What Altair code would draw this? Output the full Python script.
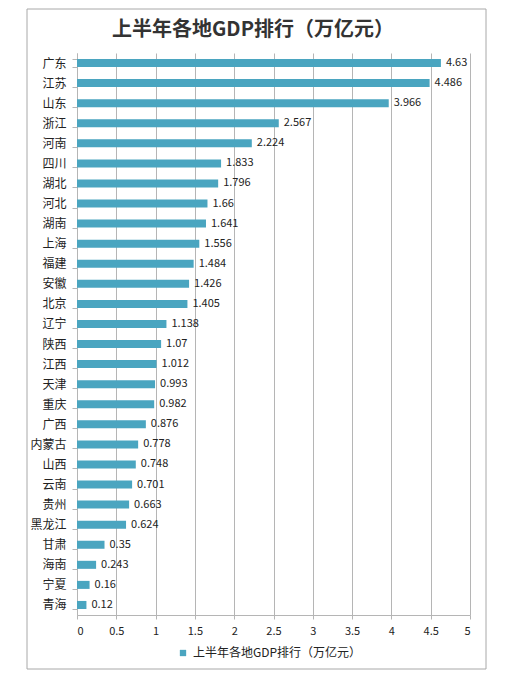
import altair as alt
import pandas as pd

provinces = ["广东", "江苏", "山东", "浙江", "河南", "四川", "湖北", "河北", "湖南", "上海",
             "福建", "安徽", "北京", "辽宁", "陕西", "江西", "天津", "重庆", "广西", "内蒙古",
             "山西", "云南", "贵州", "黑龙江", "甘肃", "海南", "宁夏", "青海"]
gdp = [4.63, 4.486, 3.966, 2.567, 2.224, 1.833, 1.796, 1.66, 1.641, 1.556,
       1.484, 1.426, 1.405, 1.138, 1.07, 1.012, 0.993, 0.982, 0.876, 0.778,
       0.748, 0.701, 0.663, 0.624, 0.35, 0.243, 0.16, 0.12]
x_ticks = [0, 0.5, 1, 1.5, 2, 2.5, 3, 3.5, 4, 4.5, 5]
series_name = "上半年各地GDP排行（万亿元）"

FONT = "Noto Sans CJK SC"
BAR = "#4aa5c0"
GRID = "#b5b5b5"

df = pd.DataFrame({"province": provinces, "gdp": gdp})

y_enc = alt.Y("province:N", sort=provinces, title=None,
              scale=alt.Scale(paddingInner=0.6, paddingOuter=0.3),
              axis=alt.Axis(tickBand="extent", tickSize=5, tickColor=GRID,
                            domainColor=GRID, labelFontSize=12, labelColor="#222222",
                            labelPadding=6, labelFont=FONT))
x_enc = alt.X("gdp:Q", title=None,
              scale=alt.Scale(domain=[0, 5], nice=False),
              axis=alt.Axis(values=x_ticks, format="~g", grid=True, gridColor=GRID,
                            tickColor=GRID, tickSize=4, domainColor=GRID,
                            labelFontSize=11, labelColor="#222222", labelPadding=6,
                            labelFont=FONT, labelOverlap=False))

base = alt.Chart(df)

bars = base.mark_bar().encode(
    y=y_enc,
    x=x_enc,
    color=alt.Color("series:N", scale=alt.Scale(range=[BAR]),
                    legend=alt.Legend(title=None, orient="none", legendX=100, legendY=594,
                                      symbolType="square", symbolSize=40,
                                      symbolStrokeWidth=0, labelFontSize=12,
                                      labelLimit=400, labelColor="#222222",
                                      labelFont=FONT)),
).transform_calculate(series=f"'{series_name}'")

labels = base.mark_text(align="left", dx=5, fontSize=11, color="#222222", font=FONT).encode(
    y=y_enc,
    x=x_enc,
    text="gdp:N",
)

one_row = alt.Data(values=[{"title": series_name}])

frame = alt.Chart(one_row).mark_rect(
    fill=None, stroke="#a8a8a8", strokeWidth=1
).encode(
    x=alt.value(-50), x2=alt.value(409), y=alt.value(-44), y2=alt.value(616)
)

# chart title drawn as text so the frame rect does not push it off the page
title = alt.Chart(one_row).mark_text(
    fontSize=20, font=FONT, fontWeight="bold", color="#333333",
    align="center", baseline="middle"
).encode(
    text="title:N", x=alt.value(176), y=alt.value(-23)
)

chart = alt.layer(frame, title, bars, labels).properties(
    width=393,
    height=562,
    padding={"left": 69, "top": 45, "right": 27, "bottom": 56},
    autosize=alt.AutoSizeParams(type="none"),
).configure_view(stroke=None)

chart.save("out.html", embed_options={"renderer": "svg", "actions": False})
